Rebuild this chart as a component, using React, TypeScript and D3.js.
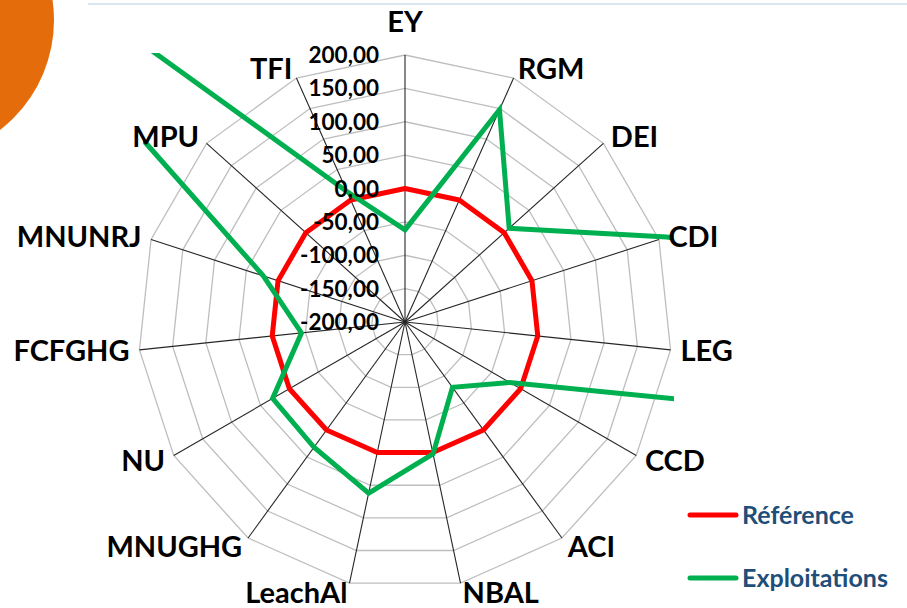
import React from 'react';
import * as d3 from 'd3';

// axes, clockwise from the top
const categories = ['EY', 'RGM', 'DEI', 'CDI', 'LEG', 'CCD', 'ACI', 'NBAL', 'LeachAl', 'MNUGHG', 'NU', 'FCFGHG', 'MNUNRJ', 'MPU', 'TFI'];
const referenceValues = [0, 0, 0, 0, 0, 0, 0, 0, 0, 0, 0, 0, 0, 0, 0];
// LEG and MPU run far outside the plot area and are clipped
const exploitationValues = [-62, 148, 10, 212, 12000, -19, -79, 2, 62, 32, 29, -44, 23, 800, 14];
const tickValues = [-200, -150, -100, -50, 0, 50, 100, 150, 200];
const seriesNames = ['Référence', 'Exploitations'];
const seriesColors = ['#FF0000', '#00B050'];

const W = 907;
const H = 608;
const cx = 405;
const cy = 322;
const R = 267;
const FONT = 'Lato, "Open Sans", sans-serif';

const r = d3.scaleLinear().domain([-200, 200]).range([0, R]);
const angle = d3.scalePoint<string>().domain(categories).range([0, 2 * Math.PI * (1 - 1 / categories.length)]);

const pt = (a: number, rad: number): [number, number] => [cx + rad * Math.sin(a), cy - rad * Math.cos(a)];

const radarLine = (vals: number[]) =>
  d3.line<number>()
    .x((v, i) => pt(angle(categories[i])!, r(v))[0])
    .y((v, i) => pt(angle(categories[i])!, r(v))[1])
    .curve(d3.curveLinearClosed)(vals) || '';

const fmt = (v: number) => v.toFixed(2).replace('.', ',');

export default function App() {
  const rings = tickValues.slice(1);
  return (
    <div style={{ position: 'fixed', left: 0, top: 0, width: W, height: H, background: '#fff' }}>
      <svg width={W} height={H} style={{ display: 'block' }}>
        <defs>
          <clipPath id="plot">
            <rect x={143} y={53} width={674 - 143} height={H - 53} />
          </clipPath>
        </defs>

        {/* slide decoration */}
        <circle cx={-85} cy={20} r={139} fill="#E46C0A" />
        <line x1={88} x2={W} y1={4} y2={4} stroke="#DCE6F2" strokeWidth={2} />

        {/* rings */}
        {rings.map(t => (
          <polygon
            key={t}
            points={categories.map(c => pt(angle(c)!, r(t)).join(',')).join(' ')}
            fill="none"
            stroke="#BEBEBE"
            strokeWidth={1.3}
          />
        ))}

        {/* spokes */}
        {categories.map(c => {
          const [x, y] = pt(angle(c)!, R);
          return <line key={c} x1={cx} y1={cy} x2={x} y2={y} stroke="#262626" strokeWidth={1.1} />;
        })}

        {/* series */}
        <g clipPath="url(#plot)">
          <path d={radarLine(referenceValues)} fill="none" stroke={seriesColors[0]} strokeWidth={5} strokeLinejoin="round" />
          <path d={radarLine(exploitationValues)} fill="none" stroke={seriesColors[1]} strokeWidth={5} strokeLinejoin="miter" />
        </g>

        {/* radial tick labels */}
        {tickValues.map(t => (
          <text
            key={t}
            x={379}
            y={cy - r(t)}
            dy="0.36em"
            textAnchor="end"
            fontFamily={FONT}
            fontWeight={700}
            fontSize={22.5}
            fill="#000"
          >
            {fmt(t)}
          </text>
        ))}

        {/* category labels */}
        {categories.map(c => {
          const a = angle(c)!;
          const s = Math.sin(a);
          const side = Math.abs(s) < 0.1;
          const [x, y] = pt(a, R + (side ? 33 : 10));
          return (
            <text
              key={c}
              x={x}
              y={y}
              dy="0.36em"
              textAnchor={side ? 'middle' : s > 0 ? 'start' : 'end'}
              fontFamily={FONT}
              fontWeight={700}
              fontSize={29}
              fill="#000"
            >
              {c}
            </text>
          );
        })}

        {/* legend */}
        {seriesNames.map((n, i) => {
          const y = 515 + i * 63;
          return (
            <g key={n}>
              <line x1={690} x2={736} y1={y} y2={y} stroke={seriesColors[i]} strokeWidth={5} strokeLinecap="round" />
              <text x={742} y={y} dy="0.36em" fontFamily={FONT} fontWeight={700} fontSize={25} fill="#1F4E79">
                {n}
              </text>
            </g>
          );
        })}
      </svg>
    </div>
  );
}
